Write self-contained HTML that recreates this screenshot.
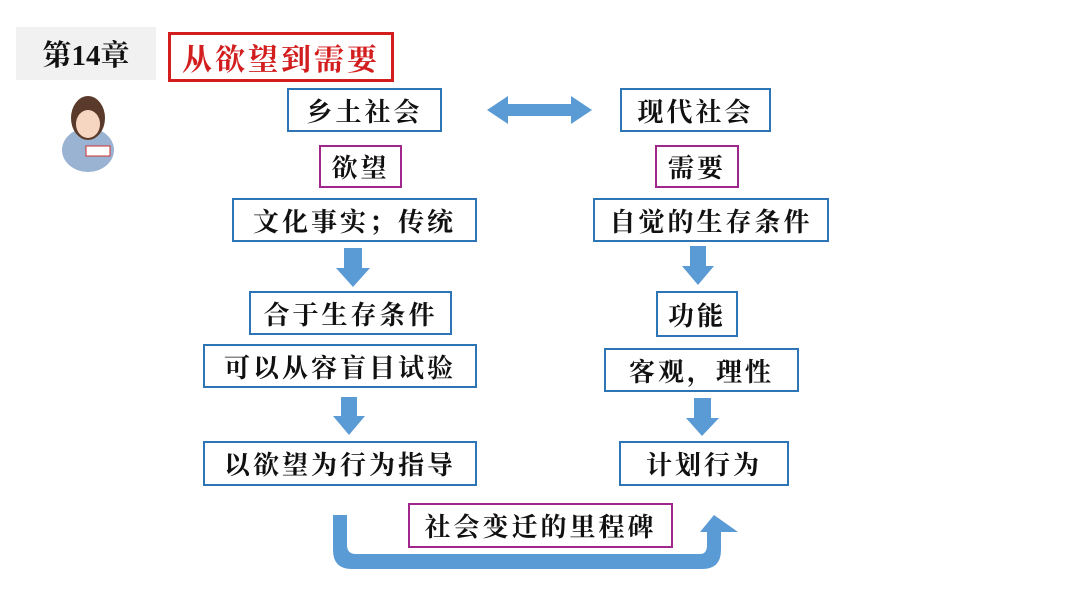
<!DOCTYPE html>
<html><head><meta charset="utf-8"><style>
body{margin:0;width:1080px;height:608px;background:#fff;position:relative;overflow:hidden;font-family:"Liberation Serif","Noto Serif CJK SC",serif;}
.b{position:absolute;box-sizing:border-box;border:2px solid #2e75b6;display:flex;align-items:center;justify-content:center;font-size:26px;font-weight:bold;letter-spacing:3px;color:#111;background:#fff;}
.p{border-color:#a0288c;}
svg{position:absolute;left:0;top:0}
</style></head><body>
<div style="position:absolute;left:16px;top:27px;width:140px;height:53px;background:#f1f1f1;display:flex;align-items:center;justify-content:center;font-size:29px;font-weight:bold;color:#111">第14章</div>
<div class="b" style="left:168px;top:32px;width:226px;height:50px;border:3px solid #d21e1e;color:#d21e1e;font-size:30px">从欲望到需要</div>
<svg width="1080" height="608">
<ellipse cx="88" cy="150" rx="26" ry="22" fill="#9bb3d3"/>
<ellipse cx="88" cy="118" rx="17" ry="22" fill="#5a3a2a"/>
<ellipse cx="88" cy="124" rx="12" ry="14" fill="#f6d6c0"/>
<rect x="86" y="146" width="24" height="10" fill="#fff" stroke="#c33" stroke-width="1"/>
<polygon points="487,110 508,96 508,104 571,104 571,96 592,110 571,124 571,116 508,116 508,124" fill="#5b9bd5"/>
<polygon points="344,248 362,248 362,268 370,268 353,287 336,268 344,268" fill="#5b9bd5"/>
<polygon points="690,246 706,246 706,266 714,266 698,285 682,266 690,266" fill="#5b9bd5"/>
<polygon points="341,397 357,397 357,416 365,416 349,435 333,416 341,416" fill="#5b9bd5"/>
<polygon points="694,398 711,398 711,418 719,418 702,436 686,418 694,418" fill="#5b9bd5"/>
<path d="M333,515 L347,515 L347,545 Q347,554 356,554 L700,554 Q707,554 707,545 L707,532 L700,532 L714,515 L738,532 L721,532 L721,550 Q721,569 702,569 L352,569 Q333,569 333,550 Z" fill="#5b9bd5"/>
</svg>
<div class="b" style="left:287px;top:88px;width:155px;height:44px">乡土社会</div>
<div class="b" style="left:620px;top:88px;width:151px;height:44px">现代社会</div>
<div class="b p" style="left:319px;top:145px;width:83px;height:43px">欲望</div>
<div class="b p" style="left:655px;top:145px;width:84px;height:43px">需要</div>
<div class="b" style="left:232px;top:198px;width:245px;height:44px">文化事实；传统</div>
<div class="b" style="left:593px;top:198px;width:236px;height:44px">自觉的生存条件</div>
<div class="b" style="left:249px;top:291px;width:203px;height:44px">合于生存条件</div>
<div class="b" style="left:656px;top:291px;width:82px;height:46px">功能</div>
<div class="b" style="left:203px;top:344px;width:274px;height:44px">可以从容盲目试验</div>
<div class="b" style="left:604px;top:348px;width:195px;height:44px">客观，理性</div>
<div class="b" style="left:203px;top:441px;width:274px;height:45px">以欲望为行为指导</div>
<div class="b" style="left:619px;top:441px;width:170px;height:45px">计划行为</div>
<div class="b p" style="left:408px;top:503px;width:265px;height:45px">社会变迁的里程碑</div>
</body></html>
